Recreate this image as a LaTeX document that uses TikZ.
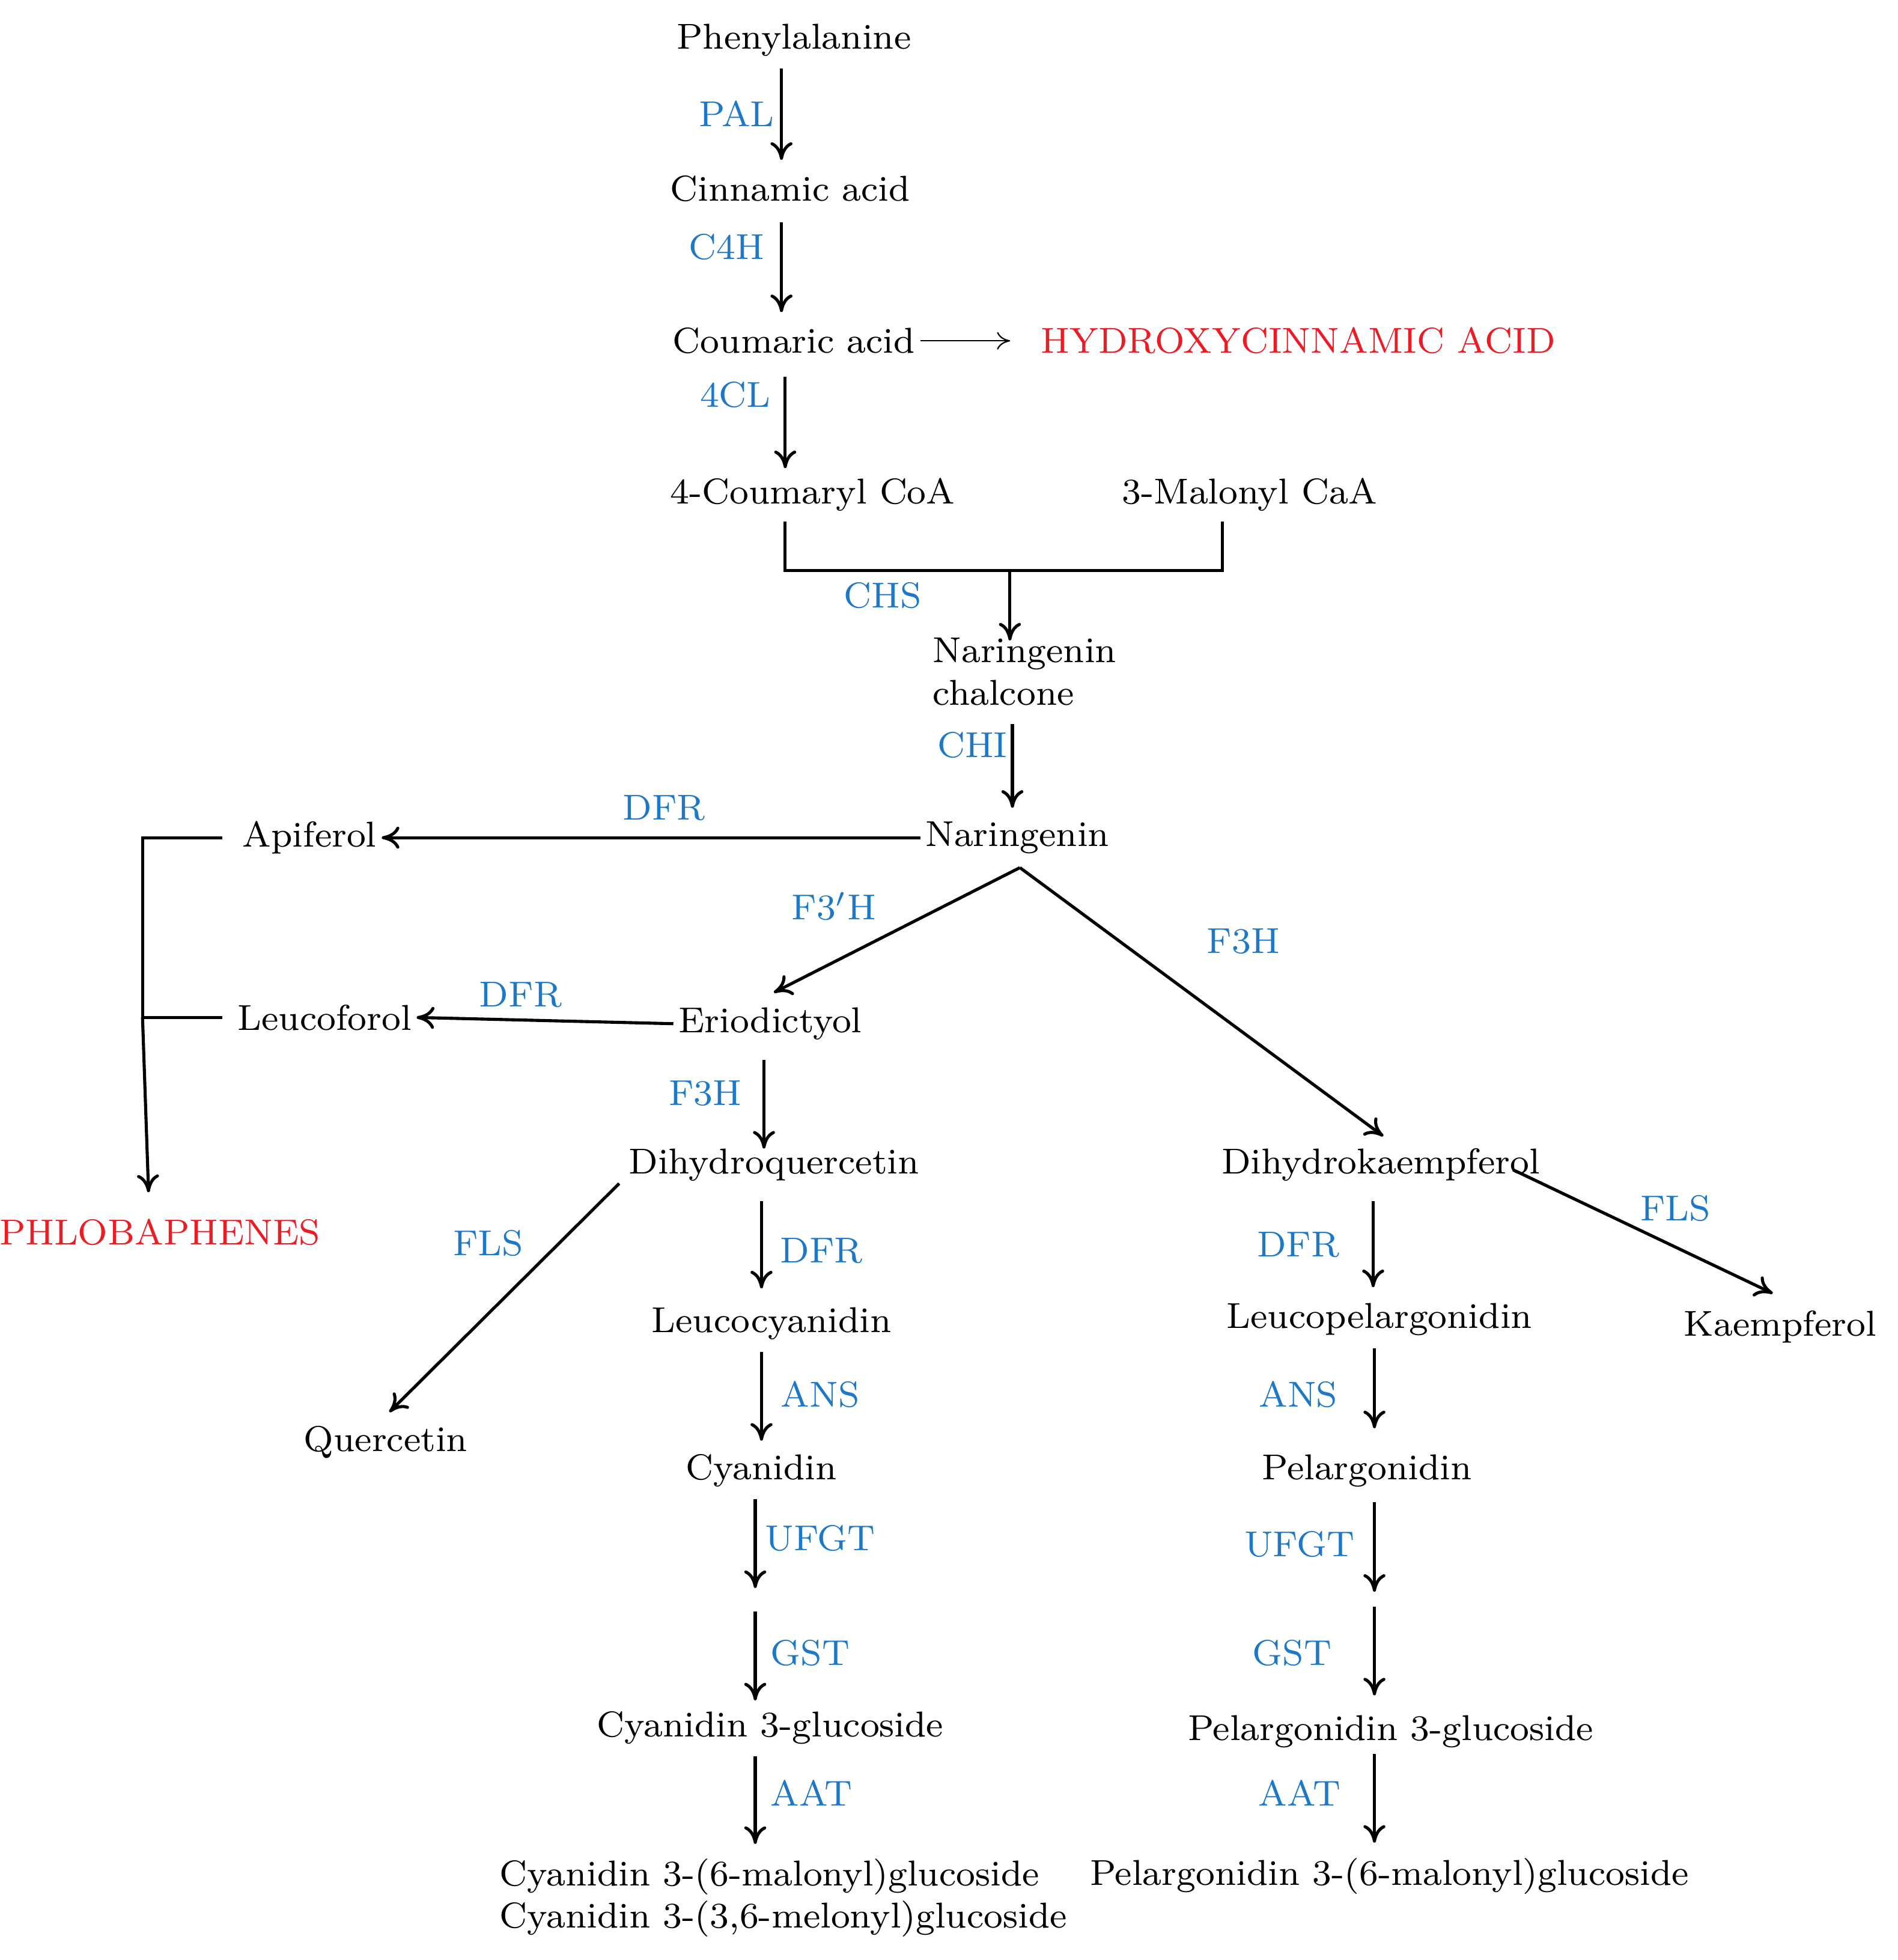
\documentclass[tikz,border=0pt]{standalone}
\usepackage{tikz}
\usetikzlibrary{arrows.meta}
\usetikzlibrary{positioning}
\definecolor{enzblue}{RGB}{30,120,200}
\definecolor{prodred}{RGB}{237,28,36}
\begin{document}
\begin{tikzpicture}
  [
    x=0.01cm,y=-0.01cm,
    font=\fontsize{8.2}{9.6}\selectfont,
    cmp/.style={inner sep=1pt,text=black},
    enz/.style={inner sep=1pt,text=enzblue},
    grp/.style={inner sep=1pt,text=prodred},
    rxn/.style={-{To[length=4pt,width=5pt]},line width=0.7pt},
    link/.style={line width=0.7pt},
  ]
    \useasboundingbox (0,0) rectangle (1520,1570);
    % compounds
    \node [cmp] (phe) at (636,32) {Phenylalanine};
    \node [cmp] (cin) at (633,151) {Cinnamic acid};
    \node [cmp] (cou) at (636,273) {Coumaric acid};
    \node [grp] (hca) at (1040,273) {HYDROXYCINNAMIC ACID};
    \node [cmp] (coa) at (651,396) {4-Coumaryl CoA};
    \node [cmp] (mal) at (1001,396) {3-Malonyl CaA};
    \node [cmp,align=left,anchor=west] (chal) at (743,538) {Naringenin\\chalcone};
    \node [cmp] (nar) at (815,671) {Naringenin};
    \node [cmp] (api) at (248,671) {Apiferol};
    \node [cmp] (eri) at (617,820) {Eriodictyol};
    \node [cmp] (leu) at (260,815) {Leucoforol};
    \node [grp] (phl) at (128,987) {PHLOBAPHENES};
    \node [cmp] (dhq) at (620,933) {Dihydroquercetin};
    \node [cmp] (que) at (309,1155) {Quercetin};
    \node [cmp] (lcy) at (618,1060) {Leucocyanidin};
    \node [cmp] (cya) at (610,1178) {Cyanidin};
    \node [cmp] (cyg) at (617,1384) {Cyanidin 3-glucoside};
    \node [cmp,align=left,anchor=west] (cym) at (396,1520) {Cyanidin 3-(6-malonyl)glucoside\\Cyanidin 3-(3,6-melonyl)glucoside};
    \node [cmp] (dhk) at (1106,933) {Dihydrokaempferol};
    \node [cmp] (kae) at (1426,1063) {Kaempferol};
    \node [cmp] (lpe) at (1105,1057) {Leucopelargonidin};
    \node [cmp] (pel) at (1095,1178) {Pelargonidin};
    \node [cmp] (peg) at (1114,1387) {Pelargonidin 3-glucoside};
    \node [cmp] (pem) at (1113,1503) {Pelargonidin 3-(6-malonyl)glucoside};
    % enzymes
    \node [enz] (pal) at (590,91) {PAL};
    \node [enz] (c4h) at (582,198) {C4H};
    \node [enz] (fcl) at (589,316) {4CL};
    \node [enz] (chs) at (707,477) {CHS};
    \node [enz] (chi) at (779,597) {CHI};
    \node [enz] (dfra) at (532,647) {DFR};
    \node [enz] (f3p) at (668,726) {F3$'$H};
    \node [enz] (f3ha) at (996,754) {F3H};
    \node [enz] (dfrb) at (417,797) {DFR};
    \node [enz] (f3hb) at (565,876) {F3H};
    \node [enz] (flsa) at (391,996) {FLS};
    \node [enz] (dfrc) at (658,1002) {DFR};
    \node [enz] (ansa) at (657,1117) {ANS};
    \node [enz] (ufa) at (657,1232) {UFGT};
    \node [enz] (gsa) at (649,1324) {GST};
    \node [enz] (aaa) at (650,1436) {AAT};
    \node [enz] (flsb) at (1342,968) {FLS};
    \node [enz] (dfrd) at (1040,997) {DFR};
    \node [enz] (ansb) at (1040,1117) {ANS};
    \node [enz] (ufb) at (1041,1237) {UFGT};
    \node [enz] (gsb) at (1035,1324) {GST};
    \node [enz] (aab) at (1041,1436) {AAT};
    % arrow ends
    \coordinate (ca1) at (626,55);   \coordinate (cb1) at (626,128);
    \coordinate (ca2) at (626,178);  \coordinate (cb2) at (626,250);
    \coordinate (ca3) at (629,302);  \coordinate (cb3) at (629,375);
    \coordinate (ca4) at (811,580);  \coordinate (cb4) at (811,647);
    \coordinate (ca5) at (612,849);  \coordinate (cb5) at (612,920);
    \coordinate (ca6) at (610,962);  \coordinate (cb6) at (610,1032);
    \coordinate (ca7) at (610,1083); \coordinate (cb7) at (610,1154);
    \coordinate (ca8) at (605,1201); \coordinate (cb8) at (605,1272);
    \coordinate (ca9) at (605,1291); \coordinate (cb9) at (605,1362);
    \coordinate (ca10) at (605,1407); \coordinate (cb10) at (605,1477);
    \coordinate (pa1) at (1100,962); \coordinate (pb1) at (1100,1031);
    \coordinate (pa2) at (1101,1080); \coordinate (pb2) at (1101,1144);
    \coordinate (pa3) at (1101,1203); \coordinate (pb3) at (1101,1275);
    \coordinate (pa4) at (1101,1287); \coordinate (pb4) at (1101,1358);
    \coordinate (pa5) at (1101,1405); \coordinate (pb5) at (1101,1476);
    \coordinate (nb) at (817,695);
    \coordinate (coal) at (629,418); \coordinate (mall) at (979,418);
    \coordinate (join) at (809,457); \coordinate (chalt) at (809,513);
    \coordinate (erit) at (620,795); \coordinate (dhkt) at (1108,910);
    \coordinate (dhqa) at (496,948); \coordinate (queb) at (312,1131);
    \coordinate (dhka) at (1212,937); \coordinate (kaeb) at (1420,1036);
    \coordinate (phlt) at (119,955);
    % main column
    \foreach \a/\b in {ca1/cb1,ca2/cb2,ca3/cb3,ca4/cb4,ca5/cb5,ca6/cb6,ca7/cb7,ca8/cb8,ca9/cb9,ca10/cb10,pa1/pb1,pa2/pb2,pa3/pb3,pa4/pb4,pa5/pb5}
      \draw [rxn] (\a) -- (\b);
    \draw [-{To[length=3pt,width=4pt]},line width=0.3pt] (cou.east) -- ++(72,0);
    % condensation
    \draw [link] (coal) -- (coal |- join) -- (join -| mall) -- (mall);
    \draw [rxn] (join) -- (chalt);
    % branches
    \draw [rxn] (nar.west) -- (api.east);
    \draw [rxn] (nb) -- (erit);
    \draw [rxn] (nb) -- (dhkt);
    \draw [rxn] (eri.west) -- (leu.east);
    \draw [rxn] (dhqa) -- (queb);
    \draw [rxn] (dhka) -- (kaeb);
    % phlobaphenes
    \draw [link] (api.west) ++(-12,0) -- ++(-64,0) coordinate (pl) -- (pl |- leu) -- ++(64,0);
    \draw [rxn] (pl |- leu) -- (phlt);
\end{tikzpicture}
\end{document}
